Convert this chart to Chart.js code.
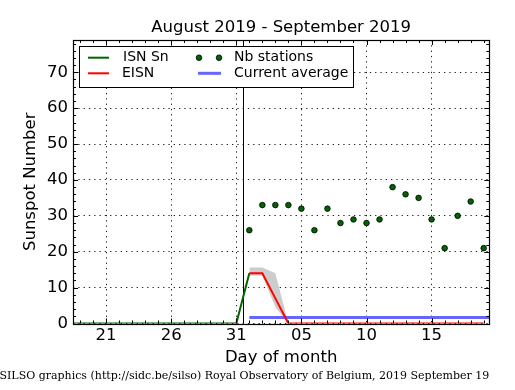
<!DOCTYPE html>
<html><head><meta charset="utf-8">
<script src="https://cdn.jsdelivr.net/npm/chart.js@4/dist/chart.umd.min.js"></script>
<style>html,body{margin:0;padding:0;background:#fff;}canvas{display:block;}</style>
</head><body>
<canvas id="c" width="515" height="390"></canvas>
<script>
// ---------- data ----------
const chartTitle = 'August 2019 - September 2019';
const yAxisTitle = 'Sunspot Number';
const xAxisTitle = 'Day of month';
const footerText = 'SILSO graphics (http://sidc.be/silso) Royal Observatory of Belgium, 2019 September 19';
const refDate = '2019-08-31';
const separatorDate = '2019-08-31T12:00:00';
const xMinDate = '2019-08-18T11:00:00';
const xMaxDate = '2019-09-19T10:20:00';
const yMin = 0;
const yMax = 79;

const isnDates = ['2019-08-18','2019-08-19','2019-08-20','2019-08-21','2019-08-22','2019-08-23','2019-08-24',
  '2019-08-25','2019-08-26','2019-08-27','2019-08-28','2019-08-29','2019-08-30','2019-08-31','2019-09-01'];
const isnValues = [0,0,0,0,0,0,0,0,0,0,0,0,0,0,14];

const eisnDates = ['2019-09-01','2019-09-02','2019-09-03','2019-09-04','2019-09-05','2019-09-06','2019-09-07',
  '2019-09-08','2019-09-09','2019-09-10','2019-09-11','2019-09-12','2019-09-13','2019-09-14','2019-09-15',
  '2019-09-16','2019-09-17','2019-09-18','2019-09-19'];
const eisnValues = [14,14,7,0,0,0,0,0,0,0,0,0,0,0,0,0,0,0,0];
const eisnLow    = [13.3,13.3,4.5,0,0,0,0,0,0,0,0,0,0,0,0,0,0,0,0];
const eisnHigh   = [15.6,15.6,14,0,0,0,0,0,0,0,0,0,0,0,0,0,0,0,0];
const nbStations = [26,33,33,33,32,26,32,28,29,28,29,38,36,35,29,21,30,34,21];

const averageDates = ['2019-09-01','2019-09-20'];
const currentAverage = 1.7;

const xTickDates  = ['2019-08-21','2019-08-26','2019-08-31','2019-09-05','2019-09-10','2019-09-15'];
const xTickLabels = ['21','26','31','05','10','15'];
const yTickValues = [0,10,20,30,40,50,60,70];

const legendLabels = ['ISN Sn','EISN','Nb stations','Current average'];

// ---------- helpers ----------
const DAY = 86400000;
const refMs = Date.parse(refDate + 'T00:00:00Z');
function dayOffset(d){ const s = d.length === 10 ? d + 'T00:00:00Z' : d + 'Z'; return (Date.parse(s) - refMs) / DAY; }
const pts = (dates, vals) => dates.map((d,i)=>({x: dayOffset(d), y: vals[i]}));

const GREEN = '#006400', RED = '#ff0000', BLUE = '#6666ff', GREY = '#cccccc';
const FONT = "'DejaVu Sans', sans-serif";

const decor = {
  id: 'decor',
  beforeDatasetsDraw(chart){
    const {ctx, chartArea:a, scales:{x}} = chart;
    const px = Math.round(x.getPixelForValue(dayOffset(separatorDate))) + 0.5;
    ctx.save(); ctx.strokeStyle = '#000'; ctx.lineWidth = 1;
    ctx.beginPath(); ctx.moveTo(px, a.top); ctx.lineTo(px, a.bottom); ctx.stroke(); ctx.restore();
  },
  afterDatasetsDraw(chart){
    const {ctx, chartArea:a, scales:{x, y}} = chart;
    ctx.save();
    ctx.strokeStyle = '#000'; ctx.lineWidth = 1;
    ctx.beginPath();
    for (let v = Math.ceil(x.min); v <= x.max; v++) {
      const p = Math.round(x.getPixelForValue(v)) + 0.5;
      const major = ((v % 5) + 5) % 5 === 0;
      const len = major ? 5 : 3;
      ctx.moveTo(p, a.bottom); ctx.lineTo(p, a.bottom - len);
      ctx.moveTo(p, a.top); ctx.lineTo(p, a.top + len);
    }
    for (let v = 0; v <= y.max; v += 2) {
      const p = Math.round(y.getPixelForValue(v)) + 0.5;
      const len = v % 10 === 0 ? 5 : 3;
      ctx.moveTo(a.left, p); ctx.lineTo(a.left + len, p);
      ctx.moveTo(a.right, p); ctx.lineTo(a.right - len, p);
    }
    ctx.stroke();
    ctx.lineWidth = 1.2;
    ctx.strokeRect(Math.round(a.left)+0.5, Math.round(a.top)+0.5, Math.round(a.right-a.left), Math.round(a.bottom-a.top));
    // legend
    const bx = a.left + 6, by = a.top + 6, bw = 274, bh = 41;
    ctx.fillStyle = '#fff'; ctx.fillRect(bx, by, bw, bh);
    ctx.lineWidth = 1; ctx.strokeStyle = '#000';
    ctx.strokeRect(Math.round(bx)+0.5, Math.round(by)+0.5, bw, bh);
    const r1 = by + 11.7, r2 = by + 27.3;
    ctx.lineWidth = 2;
    ctx.strokeStyle = GREEN; ctx.beginPath(); ctx.moveTo(bx+9, r1); ctx.lineTo(bx+30, r1); ctx.stroke();
    ctx.strokeStyle = RED; ctx.beginPath(); ctx.moveTo(bx+9, r2); ctx.lineTo(bx+30, r2); ctx.stroke();
    ctx.lineWidth = 3;
    ctx.strokeStyle = BLUE; ctx.beginPath(); ctx.moveTo(bx+119, r2); ctx.lineTo(bx+142, r2); ctx.stroke();
    ctx.lineWidth = 0.8; ctx.strokeStyle = '#000'; ctx.fillStyle = GREEN;
    [bx+120, bx+140].forEach(cx => { ctx.beginPath(); ctx.arc(cx, r1, 2.8, 0, Math.PI*2); ctx.fill(); ctx.stroke(); });
    ctx.fillStyle = '#000'; ctx.font = '14px ' + FONT; ctx.textBaseline = 'middle'; ctx.textAlign = 'left';
    ctx.fillText(legendLabels[0], bx + 44, r1);
    ctx.fillText(legendLabels[1], bx + 43, r2);
    ctx.fillText(legendLabels[2], bx + 155, r1);
    ctx.fillText(legendLabels[3], bx + 155, r2);
    ctx.restore();
  },
  afterDraw(chart){
    const {ctx, chartArea:a} = chart;
    ctx.save();
    ctx.fillStyle = '#000'; ctx.textAlign = 'center'; ctx.textBaseline = 'alphabetic';
    ctx.font = '16.5px ' + FONT;
    ctx.fillText(chartTitle, (a.left + a.right)/2, 32);
    ctx.font = "11px 'DejaVu Serif', serif"; ctx.textAlign = 'right'; ctx.textBaseline = 'middle';
    ctx.fillText(footerText, a.right, 376);
    ctx.restore();
  }
};

new Chart(document.getElementById('c'), {
  type: 'line',
  data: {
    datasets: [
      { label: legendLabels[2], data: pts(eisnDates, nbStations), showLine: false,
        pointRadius: 2.8, pointBackgroundColor: GREEN, pointBorderColor: '#000', pointBorderWidth: 0.8 },
      { label: legendLabels[1], data: pts(eisnDates, eisnValues), borderColor: RED, borderWidth: 2, pointRadius: 0, tension: 0 },
      { label: legendLabels[0], data: pts(isnDates, isnValues), borderColor: GREEN, borderWidth: 2, pointRadius: 0, tension: 0 },
      { label: legendLabels[3], data: pts(averageDates, averageDates.map(()=>currentAverage)), borderColor: BLUE, borderWidth: 3, pointRadius: 0 },
      { label: 'low', data: pts(eisnDates, eisnLow), borderWidth: 0, borderColor: 'rgba(0,0,0,0)', pointRadius: 0, fill: false },
      { label: 'high', data: pts(eisnDates, eisnHigh), borderWidth: 0, borderColor: 'rgba(0,0,0,0)', pointRadius: 0,
        fill: { target: 4 }, backgroundColor: GREY }
    ]
  },
  options: {
    responsive: false, animation: false, devicePixelRatio: 1,
    layout: { padding: { top: 40, right: 25.7, bottom: 0, left: 0 } },
    plugins: { legend: { display: false }, tooltip: { enabled: false }, title: { display: false } },
    scales: {
      x: {
        type: 'linear', min: dayOffset(xMinDate), max: dayOffset(xMaxDate),
        afterBuildTicks: s => { s.ticks = xTickDates.map(d => ({ value: dayOffset(d) })); },
        afterFit: s => { s.height = 66.5; },
        ticks: { callback: (v, i) => xTickLabels[i], autoSkip: false, maxRotation: 0, color: '#000',
                 font: { family: FONT, size: 16.5 }, padding: 2 },
        grid: { color: '#222', lineWidth: 1, drawTicks: false },
        border: { display: false, dash: [1.3, 4] },
        title: { display: true, text: xAxisTitle, color: '#000', font: { family: FONT, size: 16.5 }, padding: { top: 0, bottom: 22.8 } }
      },
      y: {
        type: 'linear', min: yMin, max: yMax,
        afterBuildTicks: s => { s.ticks = yTickValues.map(v => ({ value: v })); },
        afterFit: s => { s.width = 73; },
        ticks: { color: '#000', font: { family: FONT, size: 16.5 }, padding: 5, autoSkip: false },
        grid: { color: '#222', lineWidth: 1, drawTicks: false },
        border: { display: false, dash: [1.3, 4] },
        title: { display: true, text: yAxisTitle, color: '#000', font: { family: FONT, size: 16.5 }, padding: { top: 21, bottom: 0 } }
      }
    }
  },
  plugins: [decor]
});
</script>
</body></html>
